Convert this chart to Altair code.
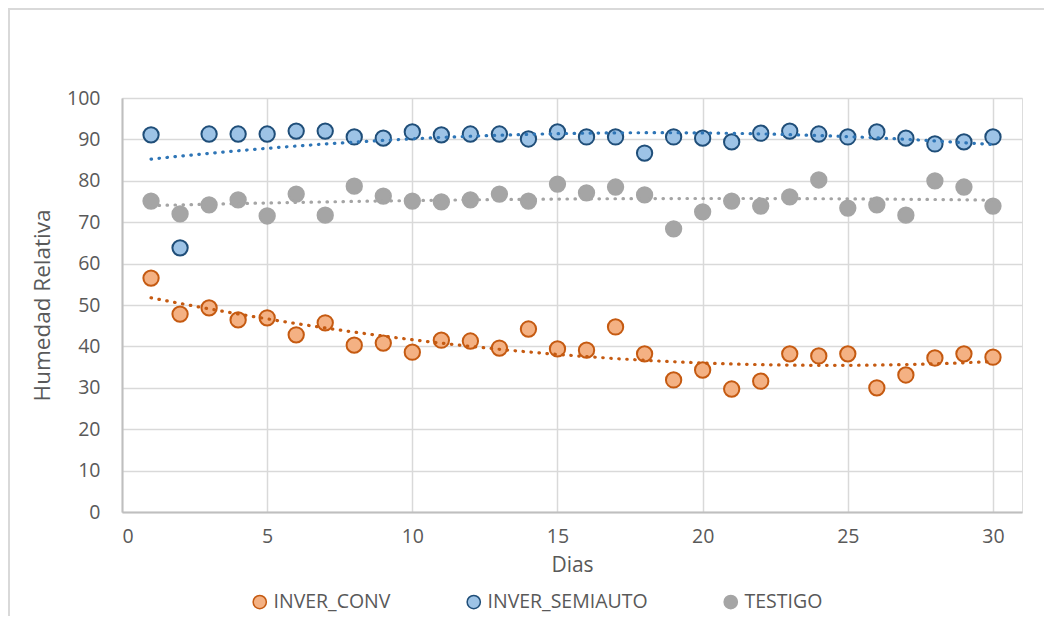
import altair as alt
import pandas as pd

dias = list(range(1, 31))

inver_conv = [56.5, 47.8, 49.3, 46.4, 46.9, 42.8, 45.7, 40.3, 40.8, 38.6,
              41.5, 41.3, 39.6, 44.2, 39.4, 39.1, 44.7, 38.2, 31.9, 34.3,
              29.7, 31.6, 38.2, 37.7, 38.2, 30.0, 33.1, 37.2, 38.2, 37.4]

inver_semiauto = [91.1, 63.8, 91.3, 91.3, 91.3, 92.0, 92.0, 90.6, 90.3, 91.8,
                  91.1, 91.3, 91.3, 90.1, 91.8, 90.6, 90.6, 86.7, 90.6, 90.3,
                  89.4, 91.5, 92.0, 91.3, 90.6, 91.8, 90.3, 88.9, 89.4, 90.6]

testigo = [75.1, 72.0, 74.2, 75.4, 71.5, 76.8, 71.7, 78.7, 76.3, 75.1,
           74.9, 75.4, 76.8, 75.1, 79.2, 77.1, 78.5, 76.6, 68.4, 72.5,
           75.1, 73.9, 76.1, 80.2, 73.4, 74.2, 71.7, 80.0, 78.5, 73.9]

series_names = ["INVER_CONV", "INVER_SEMIAUTO", "TESTIGO"]
fills = ["#F4B183", "#9DC3E6", "#A5A5A5"]
strokes = ["#C55A11", "#1F4E79", "#A5A5A5"]
trend_colors = ["#C55A11", "#2E75B6", "#A5A5A5"]

rows = []
for name, vals in zip(series_names, [inver_conv, inver_semiauto, testigo]):
    for d, v in zip(dias, vals):
        rows.append({"Dias": d, "Humedad": v, "series": name})
df = pd.DataFrame(rows)

FONT = "Open Sans"
TXT = "#595959"

base = alt.Chart(df)

x_enc = alt.X("Dias:Q", title="Dias",
              scale=alt.Scale(domain=[0, 31], nice=False),
              axis=alt.Axis(values=[0, 5, 10, 15, 20, 25, 30], grid=True,
                            gridColor="#D9D9D9", gridWidth=1.5,
                            domainColor="#BFBFBF", domainWidth=2, ticks=False,
                            labelFontSize=19.5, labelColor=TXT, labelFont=FONT,
                            labelPadding=15, titleFontSize=21, titleColor=TXT,
                            titleFont=FONT, titleFontWeight="normal", titlePadding=9))
y_enc = alt.Y("Humedad:Q", title="Humedad Relativa",
              scale=alt.Scale(domain=[0, 100], nice=False),
              axis=alt.Axis(values=list(range(0, 101, 10)), grid=True,
                            gridColor="#D9D9D9", gridWidth=1.5,
                            domainColor="#BFBFBF", domainWidth=2, ticks=False,
                            labelFontSize=19.5, labelColor=TXT, labelFont=FONT,
                            labelPadding=22, titleFontSize=22.5, titleColor=TXT,
                            titleFont=FONT, titleFontWeight="normal", titlePadding=12))

legend = alt.Legend(title=None, orient="none", direction="horizontal",
                    legendX=128, legendY=494, labelFontSize=19.5, labelColor=TXT,
                    labelFont=FONT, symbolSize=175, symbolStrokeWidth=1.5,
                    columnPadding=73, labelOffset=4, symbolType="circle",
                    labelLimit=400)

points = base.mark_point(filled=True, size=235, strokeWidth=2, opacity=1).encode(
    x=x_enc,
    y=y_enc,
    fill=alt.Fill("series:N", scale=alt.Scale(domain=series_names, range=fills), legend=legend),
    stroke=alt.Stroke("series:N", scale=alt.Scale(domain=series_names, range=strokes), legend=legend),
)

trends = []
for name, col in zip(series_names, trend_colors):
    t = base.transform_filter(alt.datum.series == name).transform_regression(
        "Dias", "Humedad", method="poly", order=2
    ).mark_line(color=col, strokeWidth=3.2, strokeDash=[0.5, 7.5], strokeCap="round").encode(
        x="Dias:Q", y="Humedad:Q"
    )
    trends.append(t)

border = alt.Chart(pd.DataFrame({"a": [0]})).mark_rect(
    fillOpacity=0, stroke="#D9D9D9", strokeWidth=2
).encode(x=alt.value(-113), x2=alt.value(940), y=alt.value(-89), y2=alt.value(540))

chart = alt.layer(border, points, *trends).properties(
    width=900, height=414,
    autosize=alt.AutoSizeParams(type="none"),
    padding={"left": 114, "top": 90, "right": 22, "bottom": 104},
).configure_view(stroke=None).configure(background="white")

chart.save("out.html", embed_options={"renderer": "svg", "actions": False})
